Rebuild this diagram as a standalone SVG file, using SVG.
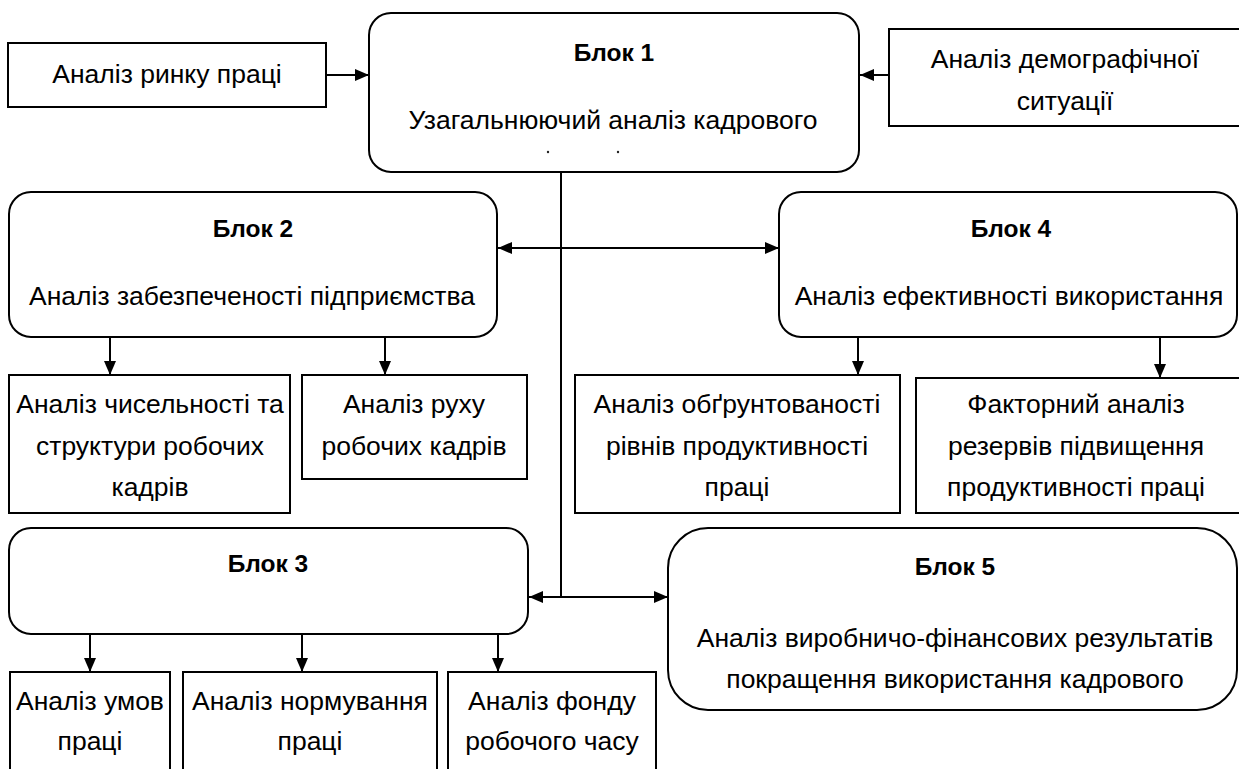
<svg xmlns="http://www.w3.org/2000/svg" width="1239" height="769" viewBox="0 0 1239 769">
<defs>
<marker id="ah" markerWidth="14" markerHeight="12" refX="14" refY="6" orient="auto-start-reverse" markerUnits="userSpaceOnUse">
<path d="M0,0 L14,6 L0,12 Z" fill="#000"/>
</marker>
<style>
.box{fill:#fff;stroke:#000;stroke-width:2}
.t{font-family:"Liberation Sans",Arial,sans-serif;font-size:26.5px;fill:#000;text-anchor:middle}
.b{font-weight:bold;font-size:24.5px}
.c{stroke:#000;stroke-width:2;fill:none}
.a{marker-end:url(#ah)}
.d{marker-start:url(#ah);marker-end:url(#ah)}
</style>
</defs>
<rect width="1239" height="769" fill="#fff"/>
<g id="connectors">
<line class="c a" x1="326" y1="75" x2="369" y2="75"/>
<line class="c a" x1="889" y1="75" x2="860" y2="75"/>
<line class="c" x1="561" y1="172" x2="561" y2="597"/>
<line class="c d" x1="498" y1="248" x2="779" y2="248"/>
<line class="c d" x1="529" y1="597" x2="668" y2="597"/>
<line class="c a" x1="110" y1="338" x2="110" y2="375"/>
<line class="c a" x1="385" y1="338" x2="385" y2="375"/>
<line class="c a" x1="858" y1="338" x2="858" y2="375"/>
<line class="c a" x1="1160" y1="338" x2="1160" y2="378"/>
<line class="c a" x1="90" y1="634" x2="90" y2="672"/>
<line class="c a" x1="302" y1="634" x2="302" y2="672"/>
<line class="c a" x1="498" y1="634" x2="498" y2="672"/>
</g>
<g id="market">
<rect class="box" x="8" y="43" width="318" height="64"/>
<text class="t" x="167" y="83">Аналіз ринку праці</text>
</g>
<g id="block1">
<rect class="box" x="369" y="13" width="490" height="159" rx="22"/>
<text class="t b" x="614" y="61">Блок 1</text>
<text class="t" x="613" y="129">Узагальнюючий аналіз кадрового</text>
<circle cx="548" cy="152" r="1.2" fill="#222"/>
<circle cx="618" cy="152" r="1.2" fill="#222"/>
</g>
<g id="demography">
<rect class="box" x="889" y="29" width="360" height="97"/>
<text class="t" x="1065" y="68">Аналіз демографічної</text>
<text class="t" x="1065" y="110">ситуації</text>
</g>
<g id="block2">
<rect class="box" x="9" y="192" width="488" height="145" rx="22"/>
<text class="t b" x="253" y="237">Блок 2</text>
<text class="t" x="252" y="305">Аналіз забезпеченості підприємства</text>
</g>
<g id="block4">
<rect class="box" x="779" y="192" width="458" height="145" rx="22"/>
<text class="t b" x="1011" y="237">Блок 4</text>
<text class="t" x="1009" y="305">Аналіз ефективності використання</text>
</g>
<g id="numbers">
<rect class="box" x="9" y="375" width="281" height="138"/>
<text class="t" x="150" y="413">Аналіз чисельності та</text>
<text class="t" x="150" y="455">структури робочих</text>
<text class="t" x="150" y="496">кадрів</text>
</g>
<g id="movement">
<rect class="box" x="302" y="375" width="225" height="104"/>
<text class="t" x="414" y="413">Аналіз руху</text>
<text class="t" x="414" y="455">робочих кадрів</text>
</g>
<g id="validity">
<rect class="box" x="575" y="375" width="325" height="138"/>
<text class="t" x="737" y="413">Аналіз обґрунтованості</text>
<text class="t" x="737" y="455">рівнів продуктивності</text>
<text class="t" x="737" y="496">праці</text>
</g>
<g id="factor">
<rect class="box" x="916" y="378" width="340" height="135"/>
<text class="t" x="1076" y="413">Факторний аналіз</text>
<text class="t" x="1076" y="455">резервів підвищення</text>
<text class="t" x="1076" y="496">продуктивності праці</text>
</g>
<g id="block3">
<rect class="box" x="9" y="528" width="519" height="106" rx="22"/>
<text class="t b" x="268" y="572">Блок 3</text>
</g>
<g id="block5">
<rect class="box" x="668" y="528" width="569" height="182" rx="40"/>
<text class="t b" x="955" y="575">Блок 5</text>
<text class="t" x="955" y="647">Аналіз виробничо-фінансових результатів</text>
<text class="t" x="955" y="688">покращення використання кадрового</text>
</g>
<g id="conditions">
<rect class="box" x="10" y="672" width="160" height="110"/>
<text class="t" x="90" y="710">Аналіз умов</text>
<text class="t" x="90" y="750">праці</text>
</g>
<g id="norming">
<rect class="box" x="183" y="672" width="254" height="110"/>
<text class="t" x="310" y="710">Аналіз нормування</text>
<text class="t" x="310" y="750">праці</text>
</g>
<g id="fund">
<rect class="box" x="448" y="672" width="208" height="110"/>
<text class="t" x="552" y="710">Аналіз фонду</text>
<text class="t" x="552" y="750">робочого часу</text>
</g>
</svg>
